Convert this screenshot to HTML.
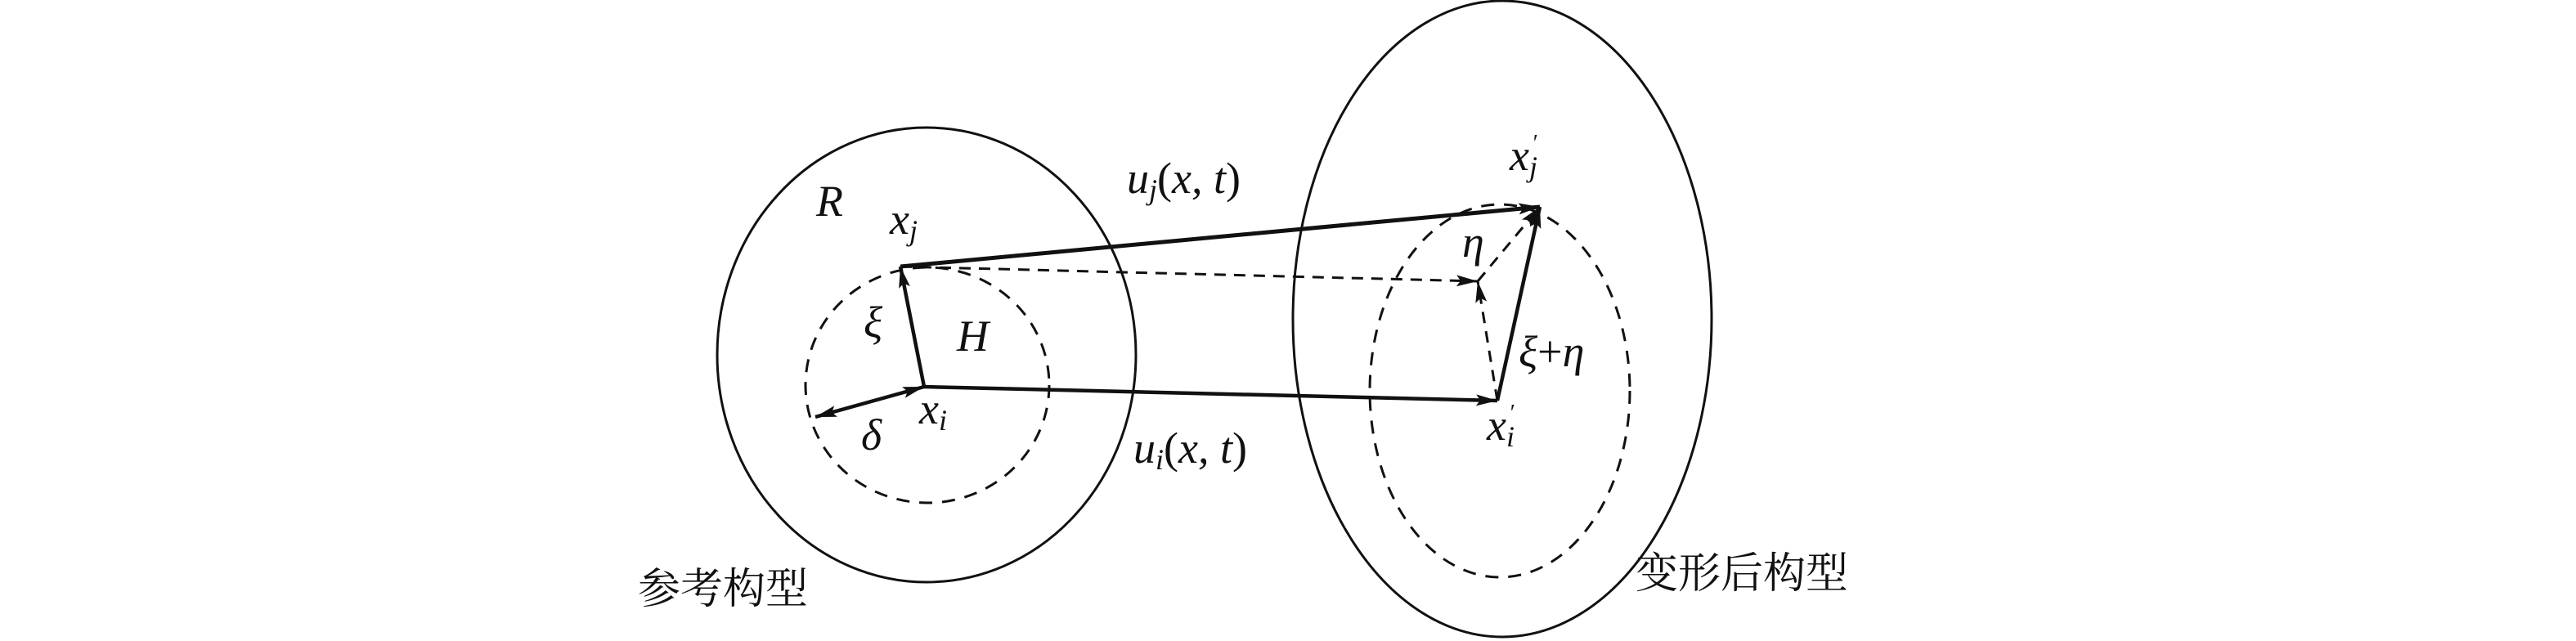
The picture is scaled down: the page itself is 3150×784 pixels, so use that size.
<!DOCTYPE html>
<html><head><meta charset="utf-8"><style>
html,body{margin:0;padding:0;background:#fff;}
svg{display:block;}
text{font-family:"Liberation Serif","DejaVu Serif",serif;font-style:italic;fill:#111;}
.cjk{font-family:"Liberation Serif","Noto Serif CJK SC","Noto Sans CJK SC",serif;font-style:normal;}
</style></head><body>
<svg width="3150" height="784" viewBox="0 0 3150 784" xmlns="http://www.w3.org/2000/svg">
<defs>
<marker id="h" viewBox="0 0 26 14" refX="26" refY="7" markerWidth="26" markerHeight="14" markerUnits="userSpaceOnUse" orient="auto">
<path d="M0,0 L26,7 L0,14 L5,7 z" fill="#111"/>
</marker>
<marker id="hs" viewBox="0 0 26 14" refX="26" refY="7" markerWidth="26" markerHeight="14" markerUnits="userSpaceOnUse" orient="auto-start-reverse">
<path d="M0,0 L26,7 L0,14 L5,7 z" fill="#111"/>
</marker>
</defs>
<g fill="none" stroke="#111">
<ellipse cx="1133" cy="434" rx="256" ry="278" stroke-width="3"/>
<ellipse cx="1837" cy="390" rx="256" ry="389" stroke-width="3"/>
<ellipse cx="1134" cy="471" rx="149" ry="144" stroke-width="3" stroke-dasharray="16,12"/>
<ellipse cx="1834" cy="478" rx="159" ry="228" stroke-width="3" stroke-dasharray="16,12"/>
<line x1="1101" y1="326" x2="1883" y2="253" stroke-width="5" marker-end="url(#h)"/>
<line x1="1130" y1="473" x2="1831" y2="490" stroke-width="4.5" marker-end="url(#h)"/>
<line x1="1130" y1="473" x2="1101" y2="326" stroke-width="4.5" marker-end="url(#h)"/>
<line x1="1831" y1="490" x2="1883" y2="253" stroke-width="4.5" marker-end="url(#h)"/>
<line x1="1130" y1="473" x2="997" y2="510" stroke-width="4.5" marker-start="url(#hs)" marker-end="url(#h)"/>
<line x1="1101" y1="326" x2="1807" y2="344" stroke-width="3" stroke-dasharray="14,10" marker-end="url(#h)"/>
<line x1="1831" y1="490" x2="1807" y2="344" stroke-width="3" stroke-dasharray="14,10" marker-end="url(#h)"/>
<line x1="1807" y1="344" x2="1883" y2="253" stroke-width="3" stroke-dasharray="14,10" marker-end="url(#h)"/>
</g>
<g font-size="54">
<text x="998" y="264">R</text>
<text x="1088" y="286">x<tspan font-size="36" dy="8">j</tspan></text>
<text x="1056" y="412">ξ</text>
<text x="1170" y="429">H</text>
<text x="1053" y="550">δ</text>
<text x="1124" y="518">x<tspan font-size="36" dy="8">i</tspan></text>
<text x="1378" y="236">u<tspan font-size="36" dy="8">j</tspan><tspan dy="-8" font-style="normal">(</tspan>x, t<tspan font-style="normal">)</tspan></text>
<text x="1386" y="566">u<tspan font-size="36" dy="8">i</tspan><tspan dy="-8" font-style="normal">(</tspan>x, t<tspan font-style="normal">)</tspan></text>
<text x="1846" y="208">x<tspan font-size="36" dy="8">j</tspan><tspan font-size="28" dy="-32" dx="-7">′</tspan></text>
<text x="1788" y="314">η</text>
<text x="1857" y="448">ξ<tspan font-style="normal">+</tspan>η</text>
<text x="1818" y="538">x<tspan font-size="36" dy="8">i</tspan><tspan font-size="28" dy="-32" dx="-7">′</tspan></text>
</g>
<text class="cjk" x="780" y="738" font-size="52">参考构型</text>
<text class="cjk" x="2000" y="719" font-size="52">变形后构型</text>
</svg>
</body></html>
